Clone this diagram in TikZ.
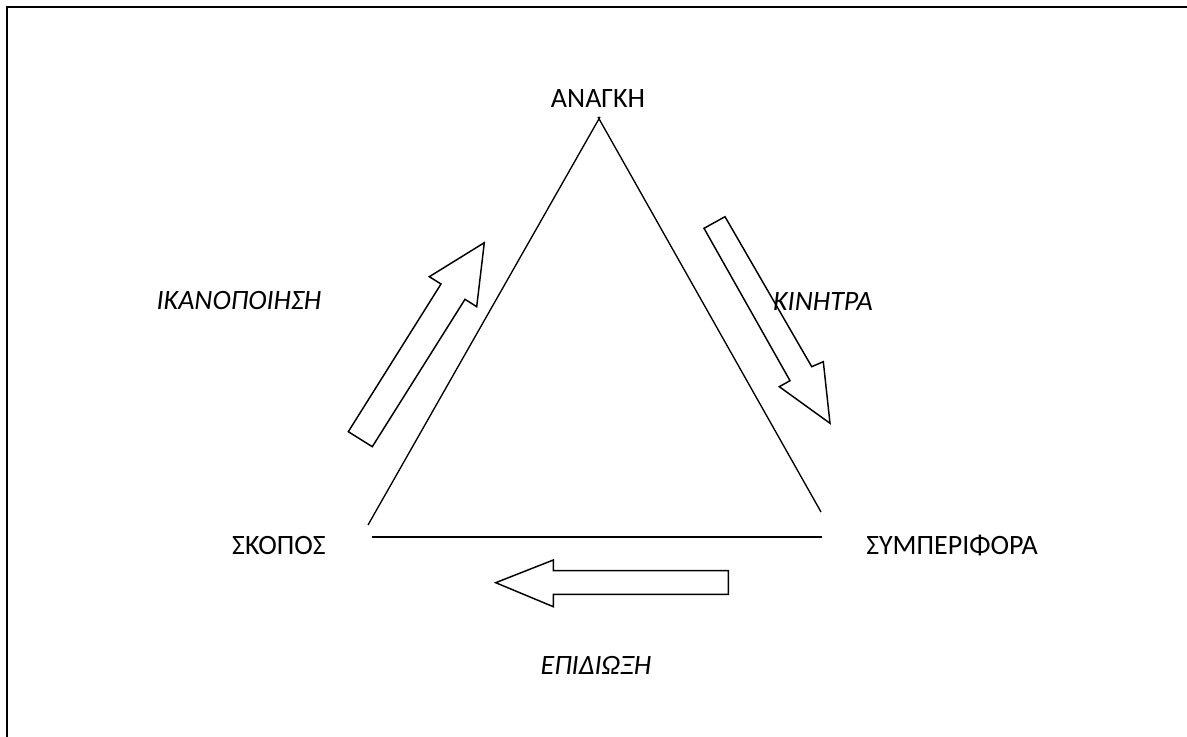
\documentclass[tikz,border=0pt]{standalone}
\usepackage{fontspec}
\setmainfont{Carlito}
\begin{document}
\begin{tikzpicture}[x=0.75pt,y=-0.75pt,
  lbl/.style={inner sep=0pt,font=\fontsize{21}{25}\selectfont},
  ilbl/.style={lbl,font=\fontsize{21}{25}\selectfont\itshape},
  side/.style={line width=1pt},
  bigarrow/.style={line width=1.1pt,line join=miter,fill=white}]
\useasboundingbox (0,0) rectangle (1187,737);
% frame: top and left edges only
\draw[line width=1.8pt] (7,737) -- (7,7) -- (1187,7);

% corner labels
\node[lbl] (need) at (598,99) {ΑΝΑΓΚΗ};
\node[lbl] (goal) at (279,546) {ΣΚΟΠΟΣ};
\node[lbl] (behav) at (952,546) {ΣΥΜΠΕΡΙΦΟΡΑ};

% triangle sides
\coordinate (aL) at (600,117);
\coordinate (aR) at (598,117);
\coordinate (gT) at (368,525);
\coordinate (gB) at (372,537);
\coordinate (bT) at (821,512);
\coordinate (bB) at (822,537);
\draw[side] (aL) -- (gT);
\draw[side] (aR) -- (bT);
\draw[side] (gB) -- (bB);

% block arrows
\draw[bigarrow] (348.3,431.7) -- (441,284) -- (429.3,276.7) -- (484.3,242.7)
  -- (476.7,306.7) -- (465,299.3) -- (372.3,446.7) -- cycle;
\draw[bigarrow] (704,228.3) -- (725,216.7) -- (811.7,366.7) -- (823.3,361.7)
  -- (830,423.3) -- (779.3,386.7) -- (790,380.7) -- cycle;
\draw[bigarrow] (495.7,582.7) -- (553.3,560) -- (553.3,570.7) -- (728.3,570.7)
  -- (728.3,594.3) -- (553.3,594.3) -- (553.3,606.7) -- cycle;

% arrow labels
\node[ilbl] (sat) at (239,301) {ΙΚΑΝΟΠΟΙΗΣΗ};
\node[ilbl] (mot) at (823,302) {ΚΙΝΗΤΡΑ};
\node[ilbl] (pur) at (596,665) {ΕΠΙΔΙΩΞΗ};
\end{tikzpicture}
\end{document}
